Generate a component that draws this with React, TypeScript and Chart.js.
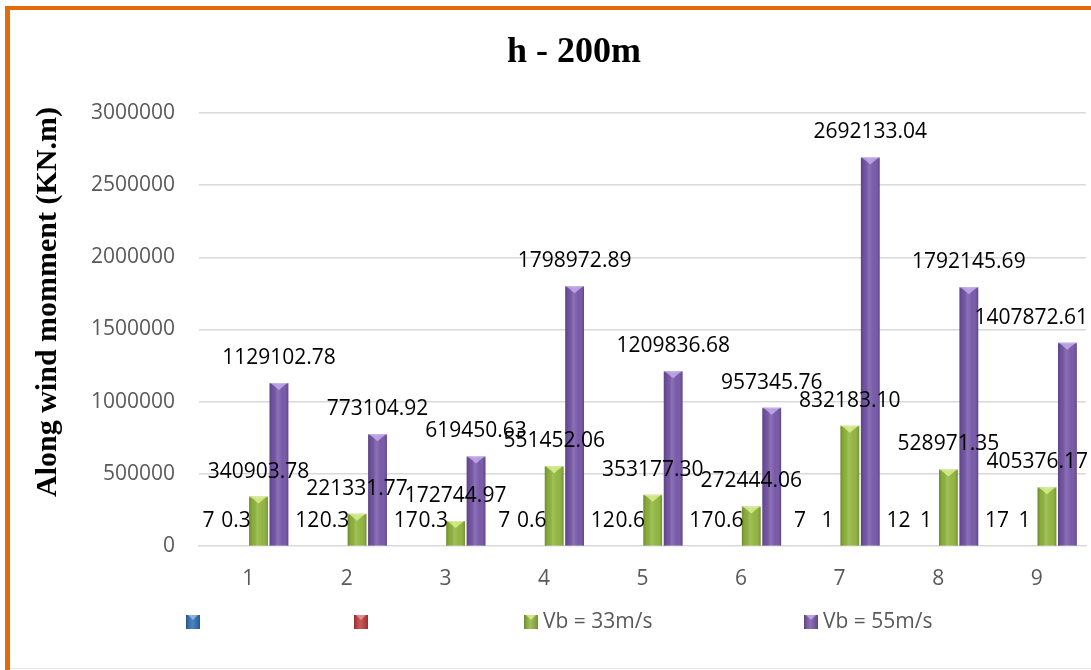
import { useEffect, useRef } from "react";
import { Chart, registerables } from "chart.js";

Chart.register(...registerables);

// ---- data ----
const categories = ["1", "2", "3", "4", "5", "6", "7", "8", "9"];
const heightSeries = [7, 12, 17, 7, 12, 17, 7, 12, 17];
const ratioSeries = [0.3, 0.3, 0.3, 0.6, 0.6, 0.6, 1, 1, 1];
const vb33Series = [
  340903.78, 221331.77, 172744.97, 551452.06, 353177.3, 272444.06, 832183.1,
  528971.35, 405376.17,
];
const vb55Series = [
  1129102.78, 773104.92, 619450.63, 1798972.89, 1209836.68, 957345.76,
  2692133.04, 1792145.69, 1407872.61,
];
const seriesNames = ["", "", "Vb = 33m/s", "Vb = 55m/s"];
const chartTitle = "h - 200m";
const yAxisTitle = "Along wind momment (KN.m)";
const yMax = 3000000;
const yStep = 500000;

// ---- styling ----
const SANS = "'Open Sans', 'Noto Sans', sans-serif";
const SERIF = "'Liberation Serif', 'Times New Roman', serif";
const TEXT_SIZE = 21;
const TICK_COLOR = "#595959";
const GRID_COLOR = "#d9d9d9";

const seriesColors = ["#2e6db4", "#c0393b", "#8fb43c", "#7656a8"];
const capColors = [
  "rgba(190,220,255,0.55)",
  "rgba(255,190,190,0.55)",
  "rgba(235,255,160,0.65)",
  "rgba(215,190,255,0.65)",
];
// horizontal shift of each series' value label (px)
const labelShift = [-9, -2, 0, 0];
// legend entry x positions (px) and vertical centre
const legendX = [186, 354, 524, 804];
const legendY = 622;
// heading positions (px)
const titlePos = { x: 574, y: 53 };
const yTitlePos = { x: 48, y: 302 };

function formatValue(dsIndex: number, v: number): string {
  return dsIndex >= 2 ? v.toFixed(2) : String(v);
}

// chart heading and vertical axis caption
const headings = {
  id: "headings",
  afterDraw(chart: any) {
    const ctx = chart.ctx as CanvasRenderingContext2D;
    ctx.save();
    ctx.fillStyle = "#000000";
    ctx.textAlign = "center";
    ctx.textBaseline = "middle";
    ctx.font = `bold 36px ${SERIF}`;
    ctx.fillText(chartTitle, titlePos.x, titlePos.y);
    ctx.translate(yTitlePos.x, yTitlePos.y);
    ctx.rotate(-Math.PI / 2);
    ctx.font = `bold 30px ${SERIF}`;
    ctx.fillText(yAxisTitle, 0, 0);
    ctx.restore();
  },
};

// cylinder-like shading and lighter caps on each bar
const barShading = {
  id: "barShading",
  afterDatasetsDraw(chart: any) {
    const ctx = chart.ctx as CanvasRenderingContext2D;
    chart.data.datasets.forEach((_: any, di: number) => {
      const meta = chart.getDatasetMeta(di);
      meta.data.forEach((el: any) => {
        const { x, y, base, width } = el.getProps(["x", "y", "base", "width"], true);
        const h = base - y;
        if (h < 1) return;
        const left = x - width / 2;
        const right = x + width / 2;
        ctx.save();
        const g = ctx.createLinearGradient(left, 0, right, 0);
        g.addColorStop(0, "rgba(0,0,0,0.22)");
        g.addColorStop(0.18, "rgba(0,0,0,0.04)");
        g.addColorStop(0.42, "rgba(255,255,255,0.16)");
        g.addColorStop(0.7, "rgba(255,255,255,0.02)");
        g.addColorStop(1, "rgba(0,0,0,0.2)");
        ctx.fillStyle = g;
        ctx.fillRect(left, y, width, h);
        const capH = Math.min(7, h);
        ctx.beginPath();
        ctx.moveTo(left + 1, y);
        ctx.lineTo(right - 1, y);
        ctx.lineTo(x, y + capH);
        ctx.closePath();
        ctx.fillStyle = capColors[di];
        ctx.fill();
        ctx.fillStyle = "rgba(255,255,255,0.25)";
        ctx.fillRect(left, y, width, 1);
        ctx.restore();
      });
    });
  },
};

// value labels above each bar, kept inside the canvas on the right
const valueLabels = {
  id: "valueLabels",
  afterDatasetsDraw(chart: any) {
    const ctx = chart.ctx as CanvasRenderingContext2D;
    const maxRight = chart.width - 3;
    ctx.save();
    ctx.font = `${TEXT_SIZE}px ${SANS}`;
    ctx.fillStyle = "#000000";
    ctx.textAlign = "center";
    ctx.textBaseline = "middle";
    chart.data.datasets.forEach((ds: any, di: number) => {
      const meta = chart.getDatasetMeta(di);
      meta.data.forEach((el: any, i: number) => {
        const { x, y } = el.getProps(["x", "y"], true);
        const text = formatValue(di, ds.data[i]);
        const w = ctx.measureText(text).width;
        let cx = x + labelShift[di];
        if (cx + w / 2 > maxRight) cx = maxRight - w / 2;
        ctx.fillText(text, cx, y - 25);
      });
    });
    ctx.restore();
  },
};

// legend row under the axis
const legendRow = {
  id: "legendRow",
  afterDraw(chart: any) {
    const ctx = chart.ctx as CanvasRenderingContext2D;
    ctx.save();
    ctx.font = `${TEXT_SIZE}px ${SANS}`;
    ctx.textBaseline = "middle";
    ctx.textAlign = "left";
    chart.data.datasets.forEach((ds: any, di: number) => {
      const bx = legendX[di];
      const by = legendY - 7;
      const g = ctx.createLinearGradient(bx, 0, bx + 14, 0);
      g.addColorStop(0, "rgba(0,0,0,0.25)");
      g.addColorStop(0.45, "rgba(255,255,255,0.15)");
      g.addColorStop(1, "rgba(0,0,0,0.2)");
      ctx.fillStyle = seriesColors[di];
      ctx.fillRect(bx, by, 14, 14);
      ctx.fillStyle = g;
      ctx.fillRect(bx, by, 14, 14);
      ctx.beginPath();
      ctx.moveTo(bx + 2, by);
      ctx.lineTo(bx + 12, by);
      ctx.lineTo(bx + 7, by + 5);
      ctx.closePath();
      ctx.fillStyle = capColors[di];
      ctx.fill();
      if (ds.label) {
        ctx.fillStyle = TICK_COLOR;
        ctx.fillText(ds.label, bx + 19, legendY);
      }
    });
    ctx.restore();
  },
};

export default function App() {
  const canvasRef = useRef<HTMLCanvasElement | null>(null);

  useEffect(() => {
    const canvas = canvasRef.current;
    if (!canvas) return;
    const seriesData = [heightSeries, ratioSeries, vb33Series, vb55Series];
    const chart = new Chart(canvas, {
      type: "bar",
      data: {
        labels: categories,
        datasets: seriesData.map((d, i) => ({
          label: seriesNames[i],
          data: d,
          backgroundColor: seriesColors[i],
          borderWidth: 0,
          inflateAmount: 0,
          barPercentage: 0.92,
          categoryPercentage: 0.83,
        })),
      },
      options: {
        animation: false,
        responsive: false,
        maintainAspectRatio: false,
        layout: { padding: { left: 10, right: 5, top: 113, bottom: 57 } },
        plugins: {
          legend: { display: false },
          tooltip: { enabled: false },
          title: { display: false },
        },
        scales: {
          x: {
            grid: { display: false, drawTicks: false },
            // baseline along the zero value
            border: { display: true, color: GRID_COLOR, width: 1.5 },
            ticks: { color: TICK_COLOR, font: { family: SANS, size: TEXT_SIZE }, padding: 21 },
          },
          y: {
            min: 0,
            max: yMax,
            border: { display: false },
            grid: {
              color: GRID_COLOR,
              lineWidth: (c: any) => (c.tick && c.tick.value === 0 ? 0 : 1.5),
              drawTicks: false,
            },
            ticks: {
              stepSize: yStep,
              color: TICK_COLOR,
              font: { family: SANS, size: TEXT_SIZE },
              padding: 24,
              callback: (v: any) => String(v),
            },
            afterFit: (scale: any) => {
              scale.width = 189;
            },
          },
        },
      },
      plugins: [barShading, valueLabels, legendRow, headings],
    } as any);
    return () => chart.destroy();
  }, []);

  return (
    <div
      style={{
        position: "absolute",
        left: 0,
        top: 0,
        width: 1091,
        height: 670,
        background: "#ffffff",
        overflow: "hidden",
      }}
    >
      <canvas
        ref={canvasRef}
        width={1091}
        height={670}
        style={{ position: "absolute", left: 0, top: 0, display: "block" }}
      />
      <div style={{ position: "absolute", left: 5, top: 6, width: 1086, height: 4, background: "#e36c0a" }} />
      <div style={{ position: "absolute", left: 5, top: 6, width: 5, height: 664, background: "#e36c0a" }} />
      <div style={{ position: "absolute", left: 10, top: 668, width: 1081, height: 1, background: "#e6e6e6" }} />
    </div>
  );
}
